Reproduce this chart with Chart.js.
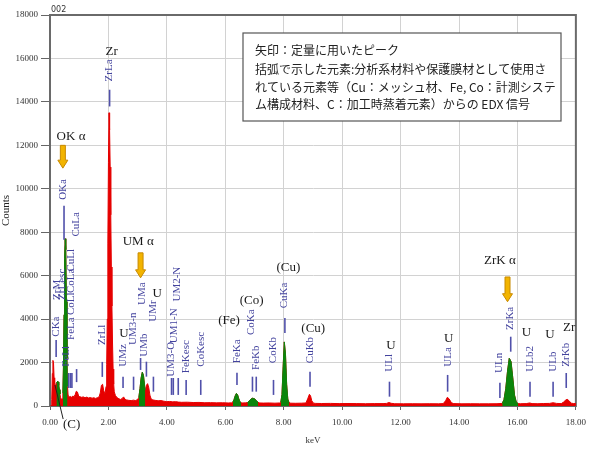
<!DOCTYPE html>
<html>
<head>
<meta charset="utf-8">
<script src="https://cdn.jsdelivr.net/npm/chart.js@4.4.1/dist/chart.umd.min.js"></script>
<style>
  body { margin: 0; background: #fff; }
  #wrap { width: 593px; height: 450px; position: relative; }
</style>
</head>
<body>
<div id="wrap"><canvas id="graphCanvas" width="593" height="450"></canvas></div>
<script>
// spectrum (keV / counts)
var energyKeV = [
  0.00, 0.04, 0.06, 0.08, 0.10, 0.12, 0.14, 0.16, 0.18, 0.20,
  0.22, 0.24, 0.26, 0.28, 0.30, 0.32, 0.34, 0.36, 0.38, 0.40,
  0.42, 0.44, 0.46, 0.48, 0.50, 0.52, 0.54, 0.56, 0.58, 0.60,
  0.62, 0.66, 0.70, 0.74, 0.78, 0.82, 0.86, 0.90, 0.94, 0.98,
  1.02, 1.08, 1.14, 1.20, 1.26, 1.32, 1.38, 1.44, 1.50, 1.56,
  1.62, 1.68, 1.72, 1.76, 1.80, 1.84, 1.88, 1.92, 1.94, 1.96,
  1.98, 2.00, 2.02, 2.04, 2.06, 2.08, 2.10, 2.12, 2.14, 2.16,
  2.18, 2.20, 2.24, 2.30, 2.36, 2.42, 2.48, 2.52, 2.56, 2.62,
  2.70, 2.78, 2.86, 2.92, 2.98, 3.04, 3.08, 3.12, 3.16, 3.20,
  3.24, 3.26, 3.28, 3.30, 3.34, 3.38, 3.42, 3.46, 3.52, 3.60,
  3.70, 3.80, 3.90, 4.00, 4.10, 4.20, 4.30, 4.40, 4.50, 4.70,
  4.90, 5.10, 5.30, 5.50, 5.70, 5.90, 6.10, 6.22, 6.26, 6.30,
  6.34, 6.38, 6.42, 6.46, 6.50, 6.54, 6.60, 6.70, 6.76, 6.82,
  6.88, 6.94, 7.00, 7.06, 7.12, 7.18, 7.30, 7.50, 7.70, 7.86,
  7.90, 7.94, 7.98, 8.02, 8.06, 8.10, 8.14, 8.18, 8.24, 8.40,
  8.60, 8.76, 8.82, 8.88, 8.92, 8.96, 9.02, 9.10, 9.30, 9.60,
  9.90, 10.2, 10.5, 10.8, 11.1, 11.4, 11.52, 11.60, 11.68, 11.80,
  12.1, 12.4, 12.7, 13.0, 13.3, 13.46, 13.54, 13.60, 13.66, 13.74,
  13.82, 14.1, 14.4, 14.7, 15.0, 15.3, 15.48, 15.54, 15.60, 15.66,
  15.72, 15.78, 15.84, 15.90, 15.96, 16.02, 16.10, 16.30, 16.42, 16.50,
  16.70, 16.90, 17.10, 17.22, 17.34, 17.50, 17.58, 17.64, 17.70, 17.76,
  17.84, 17.92, 18.00
];
var counts = [
  0, 0, 300, 1500, 2100, 2000, 1300, 1000, 950, 1000,
  1050, 1100, 1150, 1100, 950, 750, 550, 400, 330, 300,
  330, 600, 1800, 4200, 6800, 7700, 7200, 4800, 2200, 900,
  500, 420, 440, 400, 460, 430, 520, 680, 640, 460,
  430, 400, 420, 380, 410, 370, 390, 360, 380, 350,
  380, 420, 600, 950, 1000, 700, 550, 900, 1900, 4000,
  7500, 11200, 13500, 12700, 11000, 8800, 6400, 4600, 2900, 1700,
  1000, 650, 480, 380, 330, 300, 360, 420, 320, 280,
  260, 250, 270, 250, 280, 380, 800, 1300, 1560, 1400,
  900, 750, 800, 950, 1030, 850, 500, 330, 280, 260,
  240, 250, 220, 200, 210, 190, 200, 180, 170, 175,
  160, 165, 150, 155, 145, 150, 140, 145, 180, 300,
  470, 580, 520, 340, 200, 150, 140, 145, 160, 230,
  320, 360, 330, 250, 170, 140, 135, 140, 130, 140,
  180, 520, 1800, 2950, 2400, 1000, 320, 160, 130, 125,
  130, 140, 330, 540, 460, 240, 130, 120, 115, 120,
  110, 115, 110, 105, 110, 110, 120, 160, 125, 105,
  100, 105, 100, 105, 100, 110, 240, 400, 330, 150,
  110, 100, 105, 100, 100, 105, 120, 300, 800, 1600,
  2200, 2050, 1300, 500, 180, 110, 105, 110, 140, 110,
  105, 115, 120, 150, 120, 110, 180, 260, 310, 250,
  130, 115, 110
];
// energy windows shown in green (peaks used for identification)
var greenRanges = [[0.22, 0.34], [0.44, 0.60], [3.04, 3.26], [6.26, 6.54], [6.76, 7.12], [7.90, 8.18], [15.48, 16.02]];

// KLM marker table
var markerNames = ['CKa', 'ZrM', 'ZrLesc', 'FeLl', 'FeLa', 'CoLl', 'CoLa', 'CuLl', 'CuLa', 'OKa',
  'ZrLl', 'ZrLa', 'UMz', 'UM3-n', 'UMa', 'UMb', 'UMr', 'UM3-O', 'UM1-N', 'UM2-N', 'FeKesc', 'CoKesc',
  'FeKa', 'CoKa', 'FeKb', 'CoKb', 'CuKa', 'CuKb', 'ULl', 'ULa', 'ULn', 'ZrKa', 'ULb2', 'ULb', 'ZrKb'];
var markerKeV = [0.20, 0.25, 0.40, 0.55, 0.73, 0.73, 0.73, 0.73, 0.91, 0.46,
  1.77, 2.02, 2.49, 2.85, 3.14, 3.23, 3.54, 4.16, 4.24, 4.36, 4.66, 5.16,
  6.39, 6.90, 7.05, 7.62, 8.02, 8.90, 11.60, 13.61, 15.38, 15.75, 16.43, 17.21, 17.66];
var markerLineLo = [2260, null, null, 830, 830, 830, null, null, 1100, 7650,
  1340, 13790, 830, 740, 1660, 1350, 660, 510, 510, 510, 510, 510,
  970, 660, 660, 510, 3360, 890, 430, 660, 370, 2500, 430, 430, 830];
var markerLineHi = [3040, null, null, 1520, 1520, 1520, null, null, 1700, 9215,
  2030, 14560, 1350, 1350, 2210, 2040, 1350, 1290, 1290, 1290, 1200, 1200,
  1530, 1350, 1350, 1200, 4050, 1580, 1120, 1430, 1070, 3190, 1120, 1120, 1520];
var markerLabelAt = [3190, 4885, 4885, 1810, 3040, 4190, 5200, 6190, 7800, 9490,
  2810, 14944, 1810, 2810, 4650, 2270, 3880, 1350, 2890, 4810, 1510, 1810,
  1970, 3270, 1660, 1970, 4500, 1970, 1580, 1810, 1520, 3500, 1580, 1580, 1810];
var markerLineX = [0.21, null, null, 0.64, 0.70, 0.75, null, null, 0.91, 0.48,
  1.79, 2.04, 2.50, 2.86, 3.10, 3.30, 3.54, 4.16, 4.22, 4.39, 4.66, 5.16,
  6.40, 6.93, 7.06, 7.65, 8.04, 8.90, 11.62, 13.61, 15.40, 15.77, 16.43, 17.22, 17.67];

// element notes (black) and arrows for quantified peaks
var noteText = ['Zr', 'OK α', 'UM α', 'U', 'U', '(Fe)', '(Co)', '(Cu)', '(Cu)', 'U', 'U', 'ZrK α', 'U', 'U', 'Zr', '(C)'];
var noteKeV = [2.11, 0.72, 3.02, 2.53, 3.67, 6.13, 6.90, 8.16, 9.01, 11.67, 13.65, 15.40, 16.31, 17.11, 17.77, 0.74];
var noteCounts = [16320, 12400, 7570, 3350, 5190, 3920, 4840, 6350, 3580, 2760, 3090, 6700, 3380, 3300, 3610, -875];
var arrowKeV = [0.44, 3.10, 15.66];
var arrowFrom = [12000, 7050, 5940];
var arrowTo = [10950, 5900, 4800];

var boxLines = [
  '矢印：定量に用いたピーク',
  '括弧で示した元素:分析系材料や保護膜材として使用さ',
  'れている元素等（Cu：メッシュ材、Fe, Co：計測システ',
  'ム構成材料、C：加工時蒸着元素）からの EDX 信号'
];

function inGreen(e) {
  for (var i = 0; i < greenRanges.length; i++) {
    if (e >= greenRanges[i][0] - 1e-9 && e <= greenRanges[i][1] + 1e-9) return true;
  }
  return false;
}

var redData = [];
var greenData = [];
for (var i = 0; i < energyKeV.length; i++) {
  redData.push({x: energyKeV[i], y: counts[i]});
  greenData.push({x: energyKeV[i], y: inGreen(energyKeV[i]) ? counts[i] : null});
}

var serif = '"Liberation Serif", "DejaVu Serif", serif';

var frame = {
  id: 'frame',
  beforeDatasetsDraw: function (chart) {
    var a = chart.chartArea, ctx = chart.ctx;
    ctx.save();
    ctx.strokeStyle = '#6a6a6a';
    ctx.lineWidth = 2;
    ctx.strokeRect(a.left, a.top, a.right - a.left, a.bottom - a.top);
    ctx.fillStyle = '#333';
    ctx.font = '8px "DejaVu Sans", sans-serif';
    ctx.textBaseline = 'middle';
    ctx.fillText('002', a.left + 1, a.top - 5);
    ctx.restore();
  }
};

var marks = {
  id: 'marks',
  afterDatasetsDraw: function (chart) {
    var ctx = chart.ctx, sx = chart.scales.x, sy = chart.scales.y;
    ctx.save();
    // blue KLM markers
    ctx.strokeStyle = '#5050aa';
    ctx.fillStyle = '#43439e';
    ctx.lineWidth = 1.6;
    ctx.font = '11px ' + serif;
    for (var i = 0; i < markerNames.length; i++) {
      if (markerLineX[i] != null) {
        var lx = sx.getPixelForValue(markerLineX[i]);
        ctx.beginPath();
        ctx.moveTo(lx, sy.getPixelForValue(markerLineLo[i]));
        ctx.lineTo(lx, sy.getPixelForValue(markerLineHi[i]));
        ctx.stroke();
      }
      var px = sx.getPixelForValue(markerKeV[i]);
      var py = sy.getPixelForValue(markerLabelAt[i]);
      ctx.save();
      ctx.translate(px, py);
      ctx.rotate(-Math.PI / 2);
      ctx.textAlign = 'left';
      ctx.textBaseline = 'middle';
      ctx.fillText(markerNames[i], 0, 0);
      ctx.restore();
    }
    // orange arrows
    for (var k = 0; k < arrowKeV.length; k++) {
      var ax = sx.getPixelForValue(arrowKeV[k]);
      var y0 = sy.getPixelForValue(arrowFrom[k]);
      var y1 = sy.getPixelForValue(arrowTo[k]);
      var hy = y1 - 8;
      ctx.beginPath();
      ctx.moveTo(ax - 2.5, y0);
      ctx.lineTo(ax + 2.5, y0);
      ctx.lineTo(ax + 2.5, hy);
      ctx.lineTo(ax + 5, hy);
      ctx.lineTo(ax, y1);
      ctx.lineTo(ax - 5, hy);
      ctx.lineTo(ax - 2.5, hy);
      ctx.closePath();
      ctx.fillStyle = '#f2b400';
      ctx.fill();
      ctx.strokeStyle = '#c88a00';
      ctx.lineWidth = 1;
      ctx.stroke();
    }
    // black notes
    ctx.fillStyle = '#1a1a1a';
    ctx.font = '13px ' + serif;
    ctx.textAlign = 'center';
    ctx.textBaseline = 'middle';
    for (var n = 0; n < noteText.length; n++) {
      ctx.fillText(noteText[n], sx.getPixelForValue(noteKeV[n]), sy.getPixelForValue(noteCounts[n]));
    }
    // leader for (C)
    ctx.strokeStyle = '#222';
    ctx.lineWidth = 1;
    ctx.beginPath();
    ctx.moveTo(sx.getPixelForValue(0.17), sy.getPixelForValue(970));
    ctx.lineTo(sx.getPixelForValue(0.45), sy.getPixelForValue(-600));
    ctx.stroke();

    // note box
    var bx = 243, by = 33, bw = 318, bh = 88;
    ctx.fillStyle = '#fff';
    ctx.fillRect(bx, by, bw, bh);
    ctx.strokeStyle = '#555';
    ctx.lineWidth = 1.2;
    ctx.strokeRect(bx, by, bw, bh);
    ctx.fillStyle = '#222';
    ctx.font = '12px "Noto Sans CJK JP", sans-serif';
    ctx.textAlign = 'left';
    var rows = [50, 69, 87, 104];
    for (var r = 0; r < boxLines.length; r++) {
      ctx.fillText(boxLines[r], bx + 12, rows[r]);
    }
    ctx.restore();
  }
};

new Chart(document.getElementById('graphCanvas'), {
  type: 'line',
  data: {
    datasets: [
      {
        label: 'peaks',
        data: greenData,
        order: 0,
        borderColor: '#0b850b',
        backgroundColor: '#0b850b',
        borderWidth: 1,
        fill: 'origin',
        pointRadius: 0,
        spanGaps: false
      },
      {
        label: 'spectrum',
        data: redData,
        order: 1,
        borderColor: '#e60000',
        backgroundColor: '#e60000',
        borderWidth: 1,
        fill: 'origin',
        pointRadius: 0
      }
    ]
  },
  options: {
    responsive: false,
    animation: false,
    parsing: false,
    layout: { padding: { top: 15, right: 17, left: 0, bottom: 0 } },
    plugins: { legend: { display: false }, tooltip: { enabled: false } },
    elements: { line: { tension: 0 } },
    scales: {
      x: {
        type: 'linear',
        min: 0,
        max: 18,
        ticks: {
          stepSize: 2,
          color: '#333',
          padding: 7,
          font: { family: serif, size: 9 },
          callback: function (v) { return v.toFixed(2); }
        },
        grid: { color: '#d2d2d2', tickLength: 4, tickColor: '#666' },
        border: { color: '#6a6a6a', width: 2 },
        title: { display: true, text: 'keV', color: '#333', font: { family: serif, size: 9 }, padding: { top: 0, bottom: 4 } },
        afterFit: function (s) { s.height = 44; }
      },
      y: {
        min: 0,
        max: 18000,
        ticks: {
          stepSize: 2000,
          color: '#333',
          padding: 3,
          font: { family: serif, size: 9 },
          callback: function (v) { return String(v); }
        },
        grid: { color: '#d2d2d2', tickLength: 9, tickColor: '#666' },
        border: { color: '#6a6a6a', width: 2 },
        title: { display: true, text: 'Counts', color: '#222', font: { family: serif, size: 11 }, padding: { top: 0, bottom: 0 } },
        afterFit: function (s) { s.width = 50; }
      }
    }
  },
  plugins: [frame, marks]
});
</script>
</body>
</html>
